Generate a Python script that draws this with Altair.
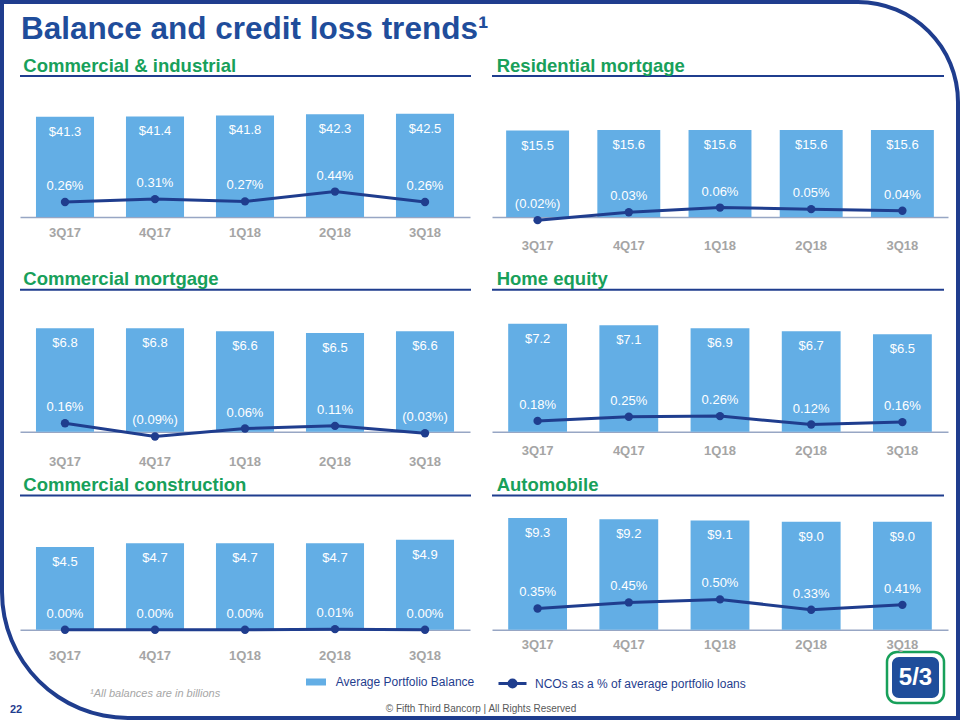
import altair as alt
import pandas as pd

quarters = ["3Q17", "4Q17", "1Q18", "2Q18", "3Q18"]

ci_bal = [41.3, 41.4, 41.8, 42.3, 42.5]
ci_nco = [0.26, 0.31, 0.27, 0.44, 0.26]
rm_bal = [15.5, 15.6, 15.6, 15.6, 15.6]
rm_nco = [-0.02, 0.03, 0.06, 0.05, 0.04]
cm_bal = [6.8, 6.8, 6.6, 6.5, 6.6]
cm_nco = [0.16, -0.09, 0.06, 0.11, -0.03]
he_bal = [7.2, 7.1, 6.9, 6.7, 6.5]
he_nco = [0.18, 0.25, 0.26, 0.12, 0.16]
cc_bal = [4.5, 4.7, 4.7, 4.7, 4.9]
cc_nco = [0.00, 0.00, 0.00, 0.01, 0.00]
au_bal = [9.3, 9.2, 9.1, 9.0, 9.0]
au_nco = [0.35, 0.45, 0.50, 0.33, 0.41]

BAL_NAME = "Average Portfolio Balance"
NCO_NAME = "NCOs as a % of average portfolio loans"

BAR = "#63aee5"
NAVY = "#1f3d8e"
TITLE_BLUE = "#1f4d9b"
GREEN = "#18a05a"
AXIS_GRAY = "#a5a5a5"
DOMAIN = "#97a6c4"
FONT = "Liberation Sans"


def panel(title, bal, nco, w, h, extra, bal_max, nco_max, pad_inner, lab_pad,
          title_dx, ul_w, legend=False):
    ppu_bal = (h - extra) / bal_max
    ppu_nco = (h - extra) / nco_max
    bal_dom = [-extra / ppu_bal, bal_max]
    nco_dom = [-extra / ppu_nco, nco_max]
    df = pd.DataFrame({"q": quarters, "bal": bal, "nco": nco,
                       "s1": BAL_NAME, "s2": NCO_NAME})
    xenc = alt.X("q:N", sort=quarters,
                 scale=alt.Scale(paddingInner=pad_inner, paddingOuter=pad_inner / 2),
                 axis=alt.Axis(title=None, labelAngle=0, ticks=False, tickSize=0,
                               domainColor=DOMAIN, domainWidth=1.5,
                               labelColor=AXIS_GRAY, labelFont=FONT,
                               labelFontSize=13, labelFontWeight="bold",
                               labelPadding=lab_pad, offset=-extra, grid=False))
    base = alt.Chart(df).encode(x=xenc)
    ybal = alt.Y("bal:Q", scale=alt.Scale(domain=bal_dom, zero=False, nice=False), axis=None)
    ynco = alt.Y("nco:Q", scale=alt.Scale(domain=nco_dom, zero=False, nice=False), axis=None)

    if legend:
        bars = base.mark_bar().encode(
            y=ybal,
            fill=alt.Fill("s1:N", scale=alt.Scale(domain=[BAL_NAME], range=[BAR]),
                          legend=alt.Legend(title=None, orient="none", legendX=286, legendY=596,
                                            symbolType="M-1,-0.35H1V0.35H-1Z", symbolSize=400,
                                            symbolStrokeWidth=0, symbolOpacity=1,
                                            labelFont=FONT, labelFontSize=12, labelColor=NAVY,
                                            labelOffset=9.7, labelLimit=400, padding=0)))
        line = base.mark_line(strokeWidth=3).encode(
            y=ynco,
            stroke=alt.Stroke("s2:N", scale=alt.Scale(domain=[NCO_NAME], range=[NAVY]),
                              legend=alt.Legend(title=None, orient="none", legendX=481, legendY=596,
                                                symbolType="M-1.4,0H1.4M-0.35,0A0.35,0.35 0 1,1 0.35,0A0.35,0.35 0 1,1 -0.35,0",
                                                symbolSize=400, symbolStrokeWidth=3,
                                                symbolFillColor=NAVY, symbolOpacity=1,
                                                labelFont=FONT, labelFontSize=12, labelColor=NAVY,
                                                labelOffset=11, labelLimit=400, padding=0)))
    else:
        bars = base.mark_bar(color=BAR).encode(y=ybal)
        line = base.mark_line(color=NAVY, strokeWidth=3).encode(y=ynco)

    bal_txt = base.mark_text(color="white", font=FONT, fontSize=13, dy=15,
                             baseline="middle").encode(
        y=ybal, text=alt.Text("bal:Q", format="$.1f"))
    pts = base.mark_point(filled=True, size=70, color=NAVY, opacity=1).encode(y=ynco)
    nco_txt = base.transform_calculate(f="datum.nco / 100").mark_text(
        color="white", font=FONT, fontSize=13, dy=-16, baseline="middle").encode(
        y=ynco, text=alt.Text("f:Q", format="(.2%"))

    tdf = pd.DataFrame({"t": [title]})
    ul = alt.Chart(tdf).mark_rule(color=NAVY, strokeWidth=2).encode(
        x=alt.value(0), x2=alt.value(ul_w), y=alt.value(0))
    ttl = alt.Chart(tdf).mark_text(color=GREEN, font=FONT, fontSize=18.5, fontWeight="bold",
                                   align="left", baseline="alphabetic").encode(
        x=alt.value(title_dx), y=alt.value(-4.5), text="t:N")

    layers = [ul, ttl, bars, bal_txt, line, pts, nco_txt]
    return layers, (w, h)


def decorations():
    one = pd.DataFrame({"k": [0]})
    ox, oy = 20, 76  # absolute position of this cell's origin
    c = alt.Chart(one)

    def box(x1, x2, y1, y2, **kw):
        return c.mark_rect(**kw).encode(
            x=alt.value(x1 - ox), x2=alt.value(x2 - ox),
            y=alt.value(y1 - oy), y2=alt.value(y2 - oy))

    out = [box(0, 960, 0, 720, fill="transparent")]
    # slide frame (filled shapes only, so the bounds stay on the page)
    out.append(box(0, 858, 0, 4, fill=NAVY))
    out.append(box(0, 4, 0, 592, fill=NAVY))
    out.append(box(956, 960, 102, 720, fill=NAVY))
    out.append(box(128, 960, 716, 720, fill=NAVY))
    out.append(c.mark_arc(radius=102, radius2=98, theta=0, theta2=1.5708, color=NAVY).encode(
        x=alt.value(858 - ox), y=alt.value(102 - oy)))
    out.append(c.mark_arc(radius=128, radius2=124, theta=3.14159, theta2=4.71239, color=NAVY).encode(
        x=alt.value(128 - ox), y=alt.value(592 - oy)))
    # texts
    out.append(alt.Chart(pd.DataFrame({"t": ["Balance and credit loss trends\u00b9"]})).mark_text(
        color=TITLE_BLUE, font=FONT, fontSize=31.5, fontWeight="bold",
        align="left", baseline="alphabetic").encode(
        x=alt.value(21 - ox), y=alt.value(38.5 - oy), text="t:N"))
    out.append(alt.Chart(pd.DataFrame({"t": ["22"]})).mark_text(
        color=NAVY, font=FONT, fontSize=11, fontWeight="bold", align="left",
        baseline="alphabetic").encode(x=alt.value(10 - ox), y=alt.value(713 - oy), text="t:N"))
    out.append(alt.Chart(pd.DataFrame({"t": ["\u00b9All balances are in billions"]})).mark_text(
        color="#a6a6a6", font=FONT, fontSize=11, fontStyle="italic", align="left",
        baseline="alphabetic").encode(x=alt.value(90 - ox), y=alt.value(697 - oy), text="t:N"))
    out.append(alt.Chart(pd.DataFrame({"t": ["\u00a9 Fifth Third Bancorp | All Rights Reserved"]})).mark_text(
        color="#595959", font=FONT, fontSize=10, align="center",
        baseline="alphabetic").encode(x=alt.value(481 - ox), y=alt.value(712 - oy), text="t:N"))
    # logo
    out.append(box(887, 944, 652, 703, fill="white", stroke=GREEN, strokeWidth=2.5, cornerRadius=10))
    out.append(box(892, 939, 657, 698, fill=TITLE_BLUE, cornerRadius=7))
    out.append(alt.Chart(pd.DataFrame({"t": ["5/3"]})).mark_text(
        color="white", font=FONT, fontSize=24, fontWeight="bold", align="center",
        baseline="middle").encode(x=alt.value(915.5 - ox), y=alt.value(678 - oy), text="t:N"))
    return out


H1, H2, H3 = 149.6, 142, 134.3
E1 = 8.6
specs = [
    panel("Commercial & industrial", ci_bal, ci_nco, 450, H1, E1, 58.06, 2.44, 0.355, 9.7, 3.3, 451, legend=True),
    panel("Residential mortgage", rm_bal, rm_nco, 456, H1, E1, 25.30, 0.898, 0.31, 22.7, 4.7, 452),
    panel("Commercial mortgage", cm_bal, cm_nco, 450, H2, 0, 9.34, 2.68, 0.355, 23.4, 3.3, 451),
    panel("Home equity", he_bal, he_nco, 456, H2, 0, 9.47, 2.37, 0.355, 12.7, 4.7, 452),
    panel("Commercial construction", cc_bal, cc_nco, 450, H3, 0, 7.31, 2.36, 0.355, 20, 3.3, 451),
    panel("Automobile", au_bal, au_nco, 456, H3, 0, 11.19, 2.216, 0.355, 9, 4.7, 452),
]

charts = []
for i, (layers, (w, h)) in enumerate(specs):
    if i == 0:
        layers = decorations() + layers
    ch = alt.layer(*layers).resolve_scale(y="independent").properties(width=w, height=h)
    charts.append(ch)

chart = alt.concat(*charts, columns=2, bounds="flush",
                   spacing={"row": 63.7, "column": 22}).resolve_scale(
    x="independent", y="independent", fill="independent", stroke="independent"
).resolve_legend(fill="independent", stroke="independent").properties(
    padding=0, background="white"
).configure_view(stroke=None).configure_legend(symbolBaseFillColor=NAVY)

chart.save("out.html", embed_options={"renderer": "svg", "actions": False})
